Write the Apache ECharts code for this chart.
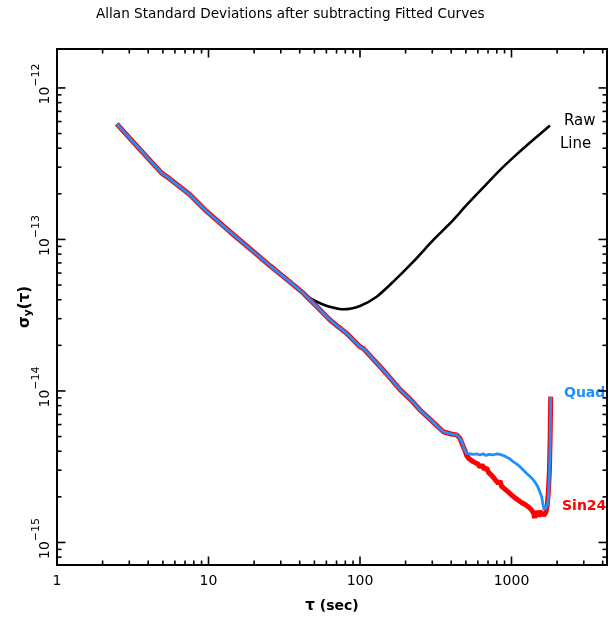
<!DOCTYPE html>
<html>
<head>
<meta charset="utf-8">
<script src="https://cdn.jsdelivr.net/npm/echarts@6/dist/echarts.min.js"></script>
<style>html,body{margin:0;padding:0;background:#fff}#c{width:608px;height:624px}</style>
</head>
<body>
<div id="c"></div>
<script>
// ---- data ----
const rawTau = [2.48, 3.5, 4.91, 5.3, 7.55, 9.73, 13.9, 19.8, 25.5, 31.2, 40.2, 46.8, 54.5, 63, 77.6, 100, 128.8, 166, 225, 305, 400, 506, 650, 839, 1100, 1393, 1795];
const rawSigma = [5.79e-13, 3.96e-13, 2.74e-13, 2.6e-13, 1.97e-13, 1.53e-13, 1.12e-13, 8.3e-14, 6.7e-14, 5.75e-14, 4.65e-14, 4.1e-14, 3.79e-14, 3.6e-14, 3.46e-14, 3.64e-14, 4.19e-14, 5.27e-14, 7.14e-14, 9.93e-14, 1.3e-13, 1.69e-13, 2.2e-13, 2.87e-13, 3.7e-13, 4.55e-13, 5.65e-13];

const commonTau = [2.48, 3.5, 4.91, 5.3, 7.55, 9.73, 13.9, 19.8, 25.5, 31.2, 42.3, 46.8, 52, 63.4, 72, 81.6, 100, 105, 135.5, 160, 183.7, 215, 249, 300, 355, 400, 435, 457];
const commonSigma = [5.79e-13, 3.96e-13, 2.74e-13, 2.6e-13, 1.97e-13, 1.53e-13, 1.12e-13, 8.3e-14, 6.7e-14, 5.68e-14, 4.42e-14, 3.99e-14, 3.6e-14, 2.94e-14, 2.65e-14, 2.4e-14, 1.96e-14, 1.91e-14, 1.45e-14, 1.2e-14, 1.02e-14, 8.8e-15, 7.49e-15, 6.3e-15, 5.38e-15, 5.2e-15, 5.13e-15, 4.87e-15];

const quadTau = [470, 480, 495, 506, 525, 540, 560, 589, 620, 650, 680, 710, 759, 800, 850, 900, 930, 980, 1030, 1080, 1138, 1200, 1260, 1330, 1393, 1450, 1500, 1540, 1582, 1610, 1640, 1664, 1700, 1730, 1750, 1780, 1800, 1815];
const quadSigma = [4.6e-15, 4.3e-15, 4.0e-15, 3.88e-15, 3.85e-15, 3.95e-15, 3.82e-15, 3.84e-15, 3.78e-15, 3.85e-15, 3.75e-15, 3.82e-15, 3.78e-15, 3.85e-15, 3.8e-15, 3.72e-15, 3.65e-15, 3.55e-15, 3.4e-15, 3.3e-15, 3.16e-15, 3.0e-15, 2.85e-15, 2.72e-15, 2.59e-15, 2.45e-15, 2.3e-15, 2.15e-15, 2.0e-15, 1.8e-15, 1.65e-15, 1.62e-15, 1.7e-15, 1.8e-15, 1.95e-15, 2.8e-15, 4.5e-15, 9.17e-15];

const sinTau = [480, 495, 506, 520, 535, 550, 565, 580, 600, 620, 640, 660, 686, 705, 720, 745, 760, 780, 798, 820, 840, 860, 880, 905, 930, 955, 980, 1005, 1030, 1055, 1080, 1110, 1138, 1170, 1200, 1230, 1260, 1290, 1325, 1350, 1380, 1405, 1420, 1440, 1470, 1490, 1510, 1543, 1570, 1600, 1630, 1664, 1690, 1720, 1750, 1780, 1800, 1815];
const sinSigma = [4.3e-15, 4.0e-15, 3.75e-15, 3.6e-15, 3.65e-15, 3.45e-15, 3.5e-15, 3.35e-15, 3.3e-15, 3.15e-15, 3.25e-15, 3.05e-15, 3.1e-15, 2.9e-15, 2.95e-15, 2.75e-15, 2.8e-15, 2.6e-15, 2.65e-15, 2.45e-15, 2.55e-15, 2.35e-15, 2.4e-15, 2.25e-15, 2.3e-15, 2.15e-15, 2.2e-15, 2.05e-15, 2.1e-15, 1.97e-15, 2.02e-15, 1.9e-15, 1.95e-15, 1.83e-15, 1.88e-15, 1.78e-15, 1.82e-15, 1.72e-15, 1.75e-15, 1.65e-15, 1.68e-15, 1.55e-15, 1.45e-15, 1.58e-15, 1.52e-15, 1.62e-15, 1.48e-15, 1.62e-15, 1.52e-15, 1.58e-15, 1.5e-15, 1.55e-15, 1.6e-15, 1.75e-15, 2.12e-15, 3.0e-15, 5.0e-15, 9.17e-15];

const xMajorTicks = [10, 100, 1000];
const xMinorTicks = [2,3,4,5,6,7,8,9,20,30,40,50,60,70,80,90,200,300,400,500,600,700,800,900,2000,3000,4000];
const yMajorTicks = [1e-12, 1e-13, 1e-14, 1e-15];
const yMinorTicks = [8e-16,9e-16,2e-15,3e-15,4e-15,5e-15,6e-15,7e-15,8e-15,9e-15,2e-14,3e-14,4e-14,5e-14,6e-14,7e-14,8e-14,9e-14,2e-13,3e-13,4e-13,5e-13,6e-13,7e-13,8e-13,9e-13];

const X_MIN = 1, X_MAX = 4270, Y_MIN = 7.1e-16, Y_MAX = 1.807e-12;

// ---- build ----
const zip = (a, b) => a.map((v, i) => [v, b[i]]);
const quadData = zip(commonTau, commonSigma).concat(zip(quadTau, quadSigma));
const sinData = zip(commonTau, commonSigma).concat(zip(sinTau, sinSigma));
const rawData = zip(rawTau, rawSigma);

const FONT = 'DejaVu Sans';
const isPow10 = v => Math.abs(Math.log10(v) - Math.round(Math.log10(v))) < 1e-6;

function tickItem(params, api) {
  const isX = api.value(2) === 0;
  const major = api.value(3) === 1;
  const L = major ? 8.5 : 4.5;
  const st = {stroke: '#000', lineWidth: 1.6};
  if (isX) {
    const v = api.value(0);
    const pb = api.coord([v, Y_MIN]);
    const pt = api.coord([v, Y_MAX]);
    return {type: 'group', children: [
      {type: 'line', shape: {x1: pb[0], y1: pb[1], x2: pb[0], y2: pb[1] - L}, style: st},
      {type: 'line', shape: {x1: pt[0], y1: pt[1], x2: pt[0], y2: pt[1] + L}, style: st}
    ]};
  } else {
    const v = api.value(1);
    const pl = api.coord([X_MIN, v]);
    const pr = api.coord([X_MAX, v]);
    return {type: 'group', children: [
      {type: 'line', shape: {x1: pl[0], y1: pl[1], x2: pl[0] + L, y2: pl[1]}, style: st},
      {type: 'line', shape: {x1: pr[0], y1: pr[1], x2: pr[0] - L, y2: pr[1]}, style: st}
    ]};
  }
}
const tickData = []
  .concat(xMajorTicks.map(v => [v, Y_MIN, 0, 1]))
  .concat(xMinorTicks.map(v => [v, Y_MIN, 0, 0]))
  .concat(yMajorTicks.map(v => [X_MIN, v, 1, 1]))
  .concat(yMinorTicks.map(v => [X_MIN, v, 1, 0]));

const chart = echarts.init(document.getElementById('c'), null, {renderer: 'canvas'});
chart.setOption({
  animation: false,
  textStyle: {fontFamily: FONT},
  title: {
    text: 'Allan Standard Deviations after subtracting Fitted Curves',
    left: 91, top: 2,
    textStyle: {fontFamily: FONT, fontSize: 13.6, fontWeight: 'normal', color: '#000'}
  },
  grid: {left: 57, right: 1, top: 49, bottom: 59, show: true, borderColor: '#000', borderWidth: 2, backgroundColor: 'transparent', outerBoundsMode: 'none', containLabel: false},
  xAxis: {
    type: 'log', logBase: 10, min: X_MIN, max: X_MAX,
    axisLine: {show: false}, axisTick: {show: false}, splitLine: {show: false}, minorTick: {show: false},
    axisLabel: {
      margin: 9, color: '#000', fontSize: 14, fontFamily: FONT, showMaxLabel: false,
      formatter: v => isPow10(v) ? String(Math.round(v)) : ''
    },
    name: '{t|τ} (sec)', nameLocation: 'middle', nameGap: 34,
    nameTextStyle: {color: '#000', fontSize: 14, fontWeight: 'bold', fontFamily: FONT, rich: {t: {fontSize: 15, fontWeight: 'bold', fontFamily: FONT}}}
  },
  yAxis: {
    type: 'log', logBase: 10, min: Y_MIN, max: Y_MAX,
    axisLine: {show: false}, axisTick: {show: false}, splitLine: {show: false}, minorTick: {show: false},
    axisLabel: {
      rotate: 90, margin: 5, color: '#000', fontFamily: FONT, showMinLabel: false, showMaxLabel: false,
      padding: [0, 0, 0, 8],
      formatter: v => isPow10(v) ? '{b|10}{s|−' + (-Math.round(Math.log10(v))) + '}' : '',
      rich: {
        b: {fontSize: 14, lineHeight: 21, verticalAlign: 'bottom', color: '#000', fontFamily: FONT},
        s: {fontSize: 11, lineHeight: 11, verticalAlign: 'top', color: '#000', fontFamily: FONT}
      }
    },
    name: '{n|σ}{u|y}{n|(τ)}', nameLocation: 'middle', nameGap: 23, nameRotate: 90, nameMoveOverlap: false,
    nameTextStyle: {
      color: '#000', fontFamily: FONT,
      rich: {
        n: {fontSize: 15, lineHeight: 16, verticalAlign: 'top', fontWeight: 'bold', color: '#000', fontFamily: FONT},
        u: {fontSize: 11, lineHeight: 11, verticalAlign: 'bottom', fontWeight: 'bold', color: '#000', fontFamily: FONT}
      }
    }
  },
  series: [
    {name: 'Raw/Line', type: 'line', data: rawData, showSymbol: false, symbol: 'none', smooth: 0.25, lineStyle: {color: '#000', width: 2.6}, z: 2},
    {name: 'Sin24', type: 'line', data: sinData, showSymbol: false, symbol: 'none', lineStyle: {color: '#ff0000', width: 5}, z: 3},
    {name: 'Quad', type: 'line', data: quadData, showSymbol: false, symbol: 'none', lineStyle: {color: '#1e90ff', width: 2.8}, z: 4},
    {name: 'ticks', type: 'custom', data: tickData, renderItem: tickItem, clip: false, silent: true, z: 10}
  ],
  graphic: [
    {type: 'text', left: 564, top: 114, style: {text: 'Raw', fill: '#000', font: '15px "DejaVu Sans"'}},
    {type: 'text', left: 560, top: 137, style: {text: 'Line', fill: '#000', font: '15px "DejaVu Sans"'}},
    {type: 'text', left: 564, top: 386, style: {text: 'Quad', fill: '#1e90ff', font: 'bold 14px "DejaVu Sans"'}},
    {type: 'text', left: 562, top: 499, style: {text: 'Sin24', fill: '#ff0000', font: 'bold 14px "DejaVu Sans"'}}
  ]
});
</script>
</body>
</html>
